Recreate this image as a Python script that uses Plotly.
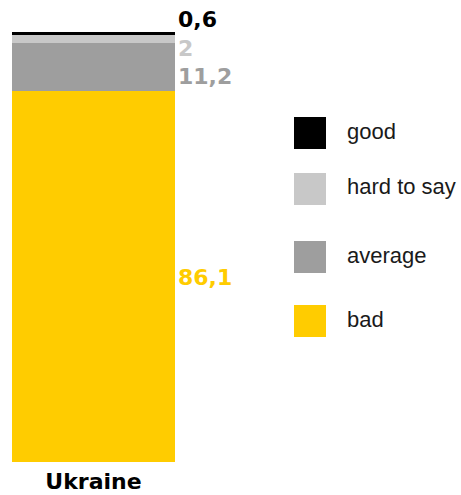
import plotly.graph_objects as go

# ---- data ----
country = ["Ukraine"]
series_names = ["bad", "average", "hard to say", "good"]
series_values = [86.1, 11.2, 2, 0.6]
value_labels = ["86,1", "11,2", "2", "0,6"]
legend_order = ["good", "hard to say", "average", "bad"]

# ---- style ----
colors = {"bad": "#FFCC00", "average": "#9E9E9E", "hard to say": "#C8C8C8", "good": "#000000"}
label_yshift = {"bad": -1, "average": -9, "hard to say": -10, "good": 14}
legend_y_px = {"good": 133, "hard to say": 189, "average": 257, "bad": 321}

W, H = 461, 495
L, R, T, B = 12, 0, 32, 33


def px_x(x):
    return (x - L) / (W - L - R)


def px_y(y):
    return (H - B - y) / (H - B - T)


fig = go.Figure()
for name, val in zip(series_names, series_values):
    fig.add_trace(go.Bar(x=country, y=[val], name=name, marker_color=colors[name],
                         marker_line_width=0, width=1, showlegend=False,
                         hoverinfo="skip"))

annotations = []
cum = 0
for name, val, lab in zip(series_names, series_values, value_labels):
    mid = cum + val / 2
    cum += val
    annotations.append(dict(x=0.5, y=mid, xref="x", yref="y", text="<b>" + lab + "</b>",
                            showarrow=False, xanchor="left", yanchor="middle", xshift=1,
                            yshift=label_yshift[name],
                            font=dict(family="DejaVu Sans", size=22, color=colors[name])))

shapes = []
for name in legend_order:
    cy = legend_y_px[name]
    shapes.append(dict(type="rect", xref="paper", yref="paper",
                       x0=px_x(294), x1=px_x(326), y0=px_y(cy + 16), y1=px_y(cy - 16),
                       fillcolor=colors[name], line_width=0))
    annotations.append(dict(x=px_x(345), y=px_y(cy), xref="paper", yref="paper", text=name,
                            showarrow=False, xanchor="left", yanchor="middle", yshift=2,
                            font=dict(family="Liberation Sans", size=22, color="#1a1a1a")))

fig.update_layout(
    width=W, height=H, margin=dict(l=L, r=R, t=T, b=B, autoexpand=False),
    barmode="stack", bargap=0,
    paper_bgcolor="white", plot_bgcolor="white",
    xaxis=dict(domain=[0, px_x(175)], range=[-0.5, 0.5], showgrid=False, zeroline=False,
               showline=False, ticks="", ticklabelstandoff=4,
               tickfont=dict(family="DejaVu Sans", size=22, color="black", weight="bold")),
    yaxis=dict(range=[0, sum(series_values)], visible=False),
    shapes=shapes, annotations=annotations,
)

fig.write_html("out.html", config={"displayModeBar": False},
               post_script="document.body.style.margin='0';")
